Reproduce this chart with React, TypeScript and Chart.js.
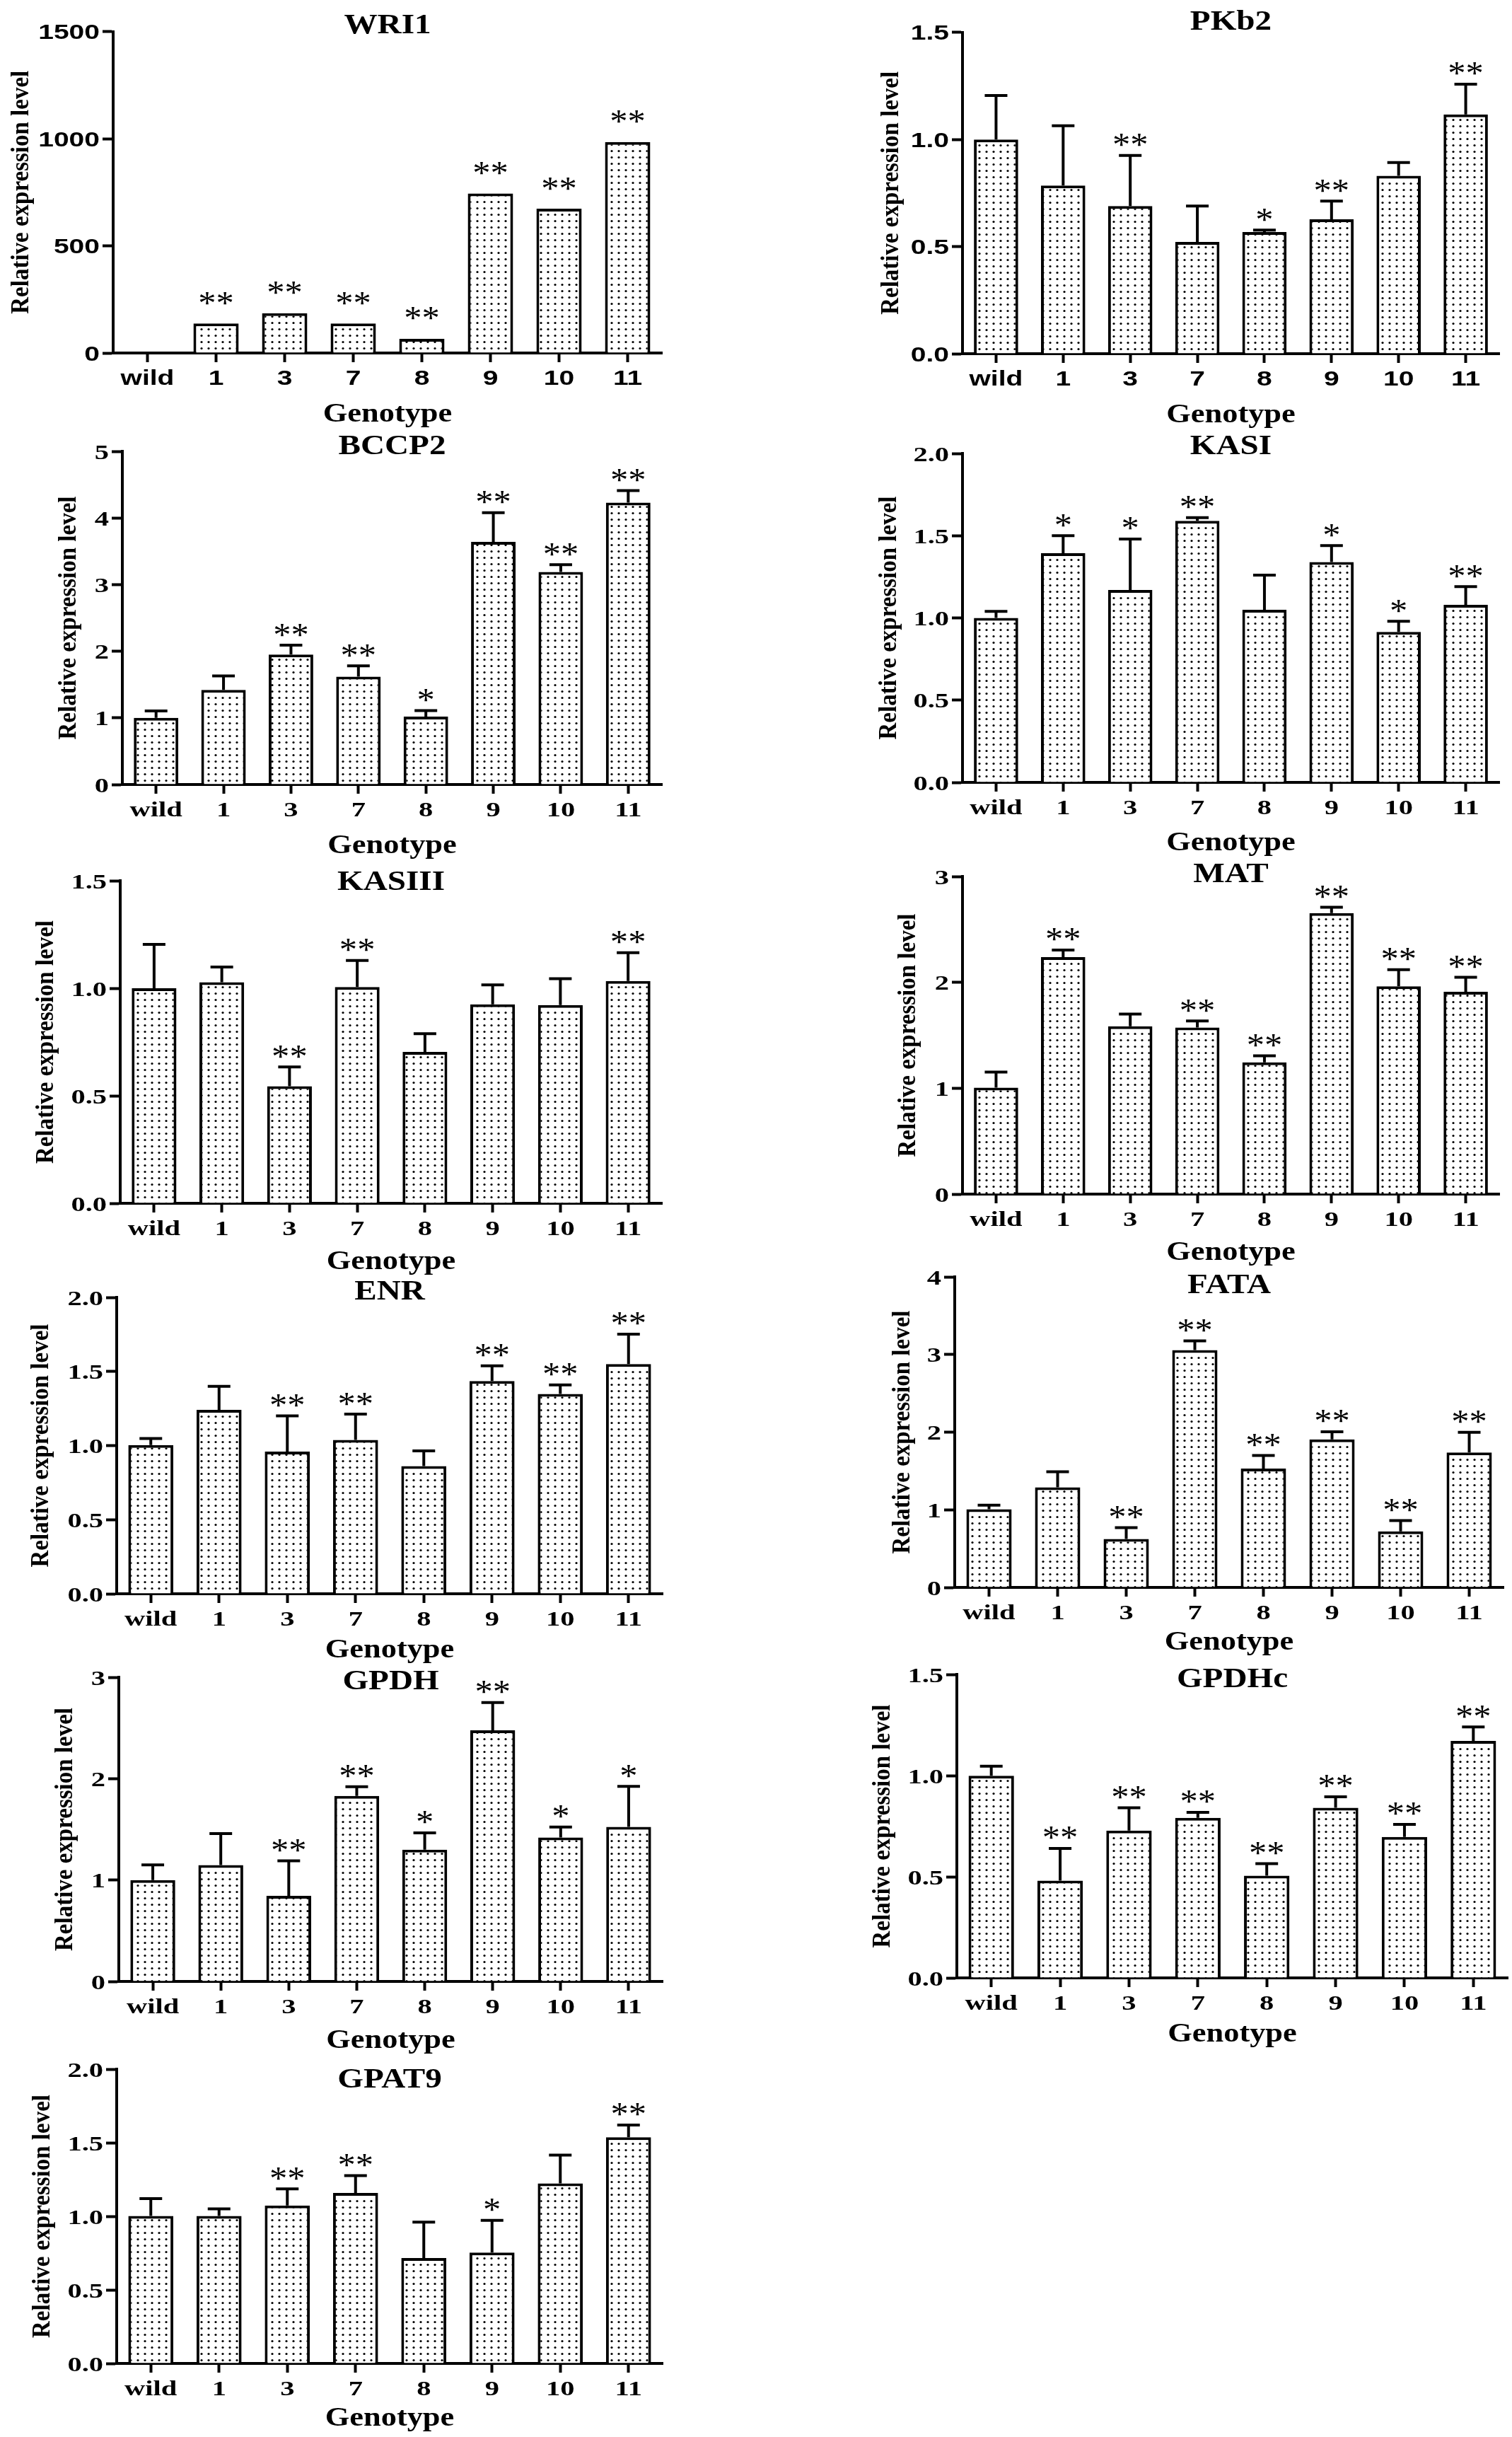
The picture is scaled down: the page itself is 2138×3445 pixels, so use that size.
import React, { useEffect, useRef } from "react";
import { Chart, registerables } from "chart.js";

Chart.register(...registerables);

// ---------------- data ----------------
const genotypes = ["wild", "1", "3", "7", "8", "9", "10", "11"];

const wri1Mean = [1, 138, 186, 138, 66, 744, 673, 984];
const wri1Err = [0, 0, 0, 0, 0, 0, 0, 0];
const wri1Sig = ["", "**", "**", "**", "**", "**", "**", "**"];

const pkb2Mean = [1.0, 0.785, 0.689, 0.522, 0.568, 0.627, 0.83, 1.117];
const pkb2Err = [0.205, 0.279, 0.236, 0.167, 0.009, 0.085, 0.062, 0.141];
const pkb2Sig = ["", "", "**", "", "*", "**", "", "**"];

const bccp2Mean = [1.0, 1.42, 1.95, 1.62, 1.02, 3.64, 3.19, 4.23];
const bccp2Err = [0.105, 0.21, 0.14, 0.16, 0.09, 0.44, 0.11, 0.18];
const bccp2Sig = ["", "", "**", "**", "*", "**", "**", "**"];

const kasiMean = [1.0, 1.394, 1.17, 1.59, 1.05, 1.34, 0.915, 1.08];
const kasiErr = [0.04, 0.106, 0.31, 0.02, 0.21, 0.1, 0.065, 0.11];
const kasiSig = ["", "*", "*", "**", "", "*", "*", "**"];

const kasiiiMean = [1.0, 1.028, 0.544, 1.006, 0.704, 0.925, 0.922, 1.034];
const kasiiiErr = [0.204, 0.071, 0.09, 0.123, 0.085, 0.091, 0.122, 0.131];
const kasiiiSig = ["", "", "**", "**", "", "", "", "**"];

const matMean = [1.006, 2.238, 1.585, 1.574, 1.245, 2.655, 1.963, 1.911];
const matErr = [0.147, 0.067, 0.115, 0.062, 0.062, 0.054, 0.157, 0.137];
const matSig = ["", "**", "", "**", "**", "**", "**", "**"];

const enrMean = [1.003, 1.241, 0.96, 1.038, 0.861, 1.435, 1.349, 1.55];
const enrErr = [0.045, 0.159, 0.24, 0.174, 0.103, 0.103, 0.06, 0.202];
const enrSig = ["", "", "**", "**", "", "**", "**", "**"];

const fataMean = [1.007, 1.29, 0.625, 3.058, 1.53, 1.907, 0.723, 1.737];
const fataErr = [0.053, 0.2, 0.145, 0.118, 0.17, 0.098, 0.137, 0.261];
const fataSig = ["", "", "**", "**", "**", "**", "**", "**"];

const gpdhMean = [0.999, 1.147, 0.844, 1.83, 1.3, 2.477, 1.42, 1.525];
const gpdhErr = [0.151, 0.311, 0.346, 0.09, 0.165, 0.273, 0.103, 0.398];
const gpdhSig = ["", "", "**", "**", "*", "**", "*", "*"];

const gpdhcMean = [0.999, 0.481, 0.728, 0.791, 0.505, 0.841, 0.697, 1.171];
const gpdhcErr = [0.047, 0.159, 0.113, 0.027, 0.06, 0.054, 0.062, 0.069];
const gpdhcSig = ["", "**", "**", "**", "**", "**", "**", "**"];

const gpat9Mean = [1.002, 1.002, 1.073, 1.159, 0.716, 0.754, 1.223, 1.537];
const gpat9Err = [0.118, 0.048, 0.113, 0.118, 0.244, 0.218, 0.193, 0.083];
const gpat9Sig = ["", "", "**", "**", "", "*", "", "**"];

// ---------------- layout / style ----------------
const SERIF = "'Liberation Serif', 'Times New Roman', serif";
const SANS = "'Liberation Sans', Arial, sans-serif";

type Panel = {
  name: string;
  mean: number[];
  err: number[];
  sig: string[];
  yMax: number;
  step: number;
  dec: number;
  sans: boolean;
  left: number;
  top: number;
  right: number;
  bottom: number;
  titleDy: number;
  ylabelX: number;
  genoDy: number;
  starGap: number;
};

const panels: Panel[] = [
  { name: "WRI1", mean: wri1Mean, err: wri1Err, sig: wri1Sig, yMax: 1500, step: 500, dec: 0, sans: true,
    left: 160, top: 44.5, right: 936, bottom: 499, titleDy: 2, ylabelX: 31, genoDy: 97, starGap: 26 },
  { name: "BCCP2", mean: bccp2Mean, err: bccp2Err, sig: bccp2Sig, yMax: 5, step: 1, dec: 0, sans: false,
    left: 173, top: 638, right: 936, bottom: 1109, titleDy: 4, ylabelX: 98, genoDy: 97, starGap: 12 },
  { name: "KASIII", mean: kasiiiMean, err: kasiiiErr, sig: kasiiiSig, yMax: 1.5, step: 0.5, dec: 1, sans: false,
    left: 170, top: 1245, right: 936, bottom: 1701, titleDy: 13, ylabelX: 66, genoDy: 93, starGap: 12 },
  { name: "ENR", mean: enrMean, err: enrErr, sig: enrSig, yMax: 2, step: 0.5, dec: 1, sans: false,
    left: 165, top: 1834, right: 937, bottom: 2253, titleDy: 3, ylabelX: 59, genoDy: 90, starGap: 12 },
  { name: "GPDH", mean: gpdhMean, err: gpdhErr, sig: gpdhSig, yMax: 3, step: 1, dec: 0, sans: false,
    left: 168, top: 2371, right: 937, bottom: 2801, titleDy: 17, ylabelX: 93, genoDy: 94, starGap: 12 },
  { name: "GPAT9", mean: gpat9Mean, err: gpat9Err, sig: gpat9Sig, yMax: 2, step: 0.5, dec: 1, sans: false,
    left: 165, top: 2925, right: 937, bottom: 3341, titleDy: 26, ylabelX: 61, genoDy: 88, starGap: 12 },
  { name: "PKb2", mean: pkb2Mean, err: pkb2Err, sig: pkb2Sig, yMax: 1.5, step: 0.5, dec: 1, sans: true,
    left: 1361, top: 45.7, right: 2120, bottom: 500, titleDy: -4, ylabelX: 1261, genoDy: 97, starGap: 12 },
  { name: "KASI", mean: kasiMean, err: kasiErr, sig: kasiSig, yMax: 2, step: 0.5, dec: 1, sans: false,
    left: 1361, top: 641, right: 2120, bottom: 1106, titleDy: 1, ylabelX: 1258, genoDy: 96, starGap: 12 },
  { name: "MAT", mean: matMean, err: matErr, sig: matSig, yMax: 3, step: 1, dec: 0, sans: false,
    left: 1361, top: 1239, right: 2120, bottom: 1688, titleDy: 8, ylabelX: 1285, genoDy: 93, starGap: 12 },
  { name: "FATA", mean: fataMean, err: fataErr, sig: fataSig, yMax: 4, step: 1, dec: 0, sans: false,
    left: 1350, top: 1805, right: 2126, bottom: 2244, titleDy: 23, ylabelX: 1277, genoDy: 88, starGap: 12 },
  { name: "GPDHc", mean: gpdhcMean, err: gpdhcErr, sig: gpdhcSig, yMax: 1.5, step: 0.5, dec: 1, sans: false,
    left: 1353, top: 2367, right: 2132, bottom: 2796, titleDy: 18, ylabelX: 1249, genoDy: 90, starGap: 12 },
];

function drawText(
  ctx: CanvasRenderingContext2D,
  text: string,
  x: number,
  y: number,
  font: string,
  align: CanvasTextAlign,
  sx: number
) {
  ctx.save();
  ctx.translate(x, y);
  ctx.scale(sx, 1);
  ctx.font = font;
  ctx.textAlign = align;
  ctx.textBaseline = "alphabetic";
  ctx.fillStyle = "#000";
  ctx.fillText(text, 0, 0);
  ctx.restore();
}

function makePattern(): CanvasPattern | string {
  const c = document.createElement("canvas");
  c.width = 10;
  c.height = 9;
  const g = c.getContext("2d");
  if (!g) return "#fff";
  g.fillStyle = "#ffffff";
  g.fillRect(0, 0, 10, 9);
  g.fillStyle = "#000";
  g.beginPath();
  g.arc(5, 4.5, 1.6, 0, Math.PI * 2);
  g.fill();
  return g.createPattern(c, "repeat") || "#fff";
}

function PanelChart({ p }: { p: Panel }) {
  const ref = useRef<HTMLCanvasElement>(null);
  const isLeft = p.left < 1000;
  const colX = isLeft ? 0 : 1180;
  const colW = isLeft ? 1000 : 958;
  const PT = 70;
  const PB = 130;
  const y0 = Math.round(p.top - PT);
  const h = Math.round(p.bottom - y0 + PB);

  useEffect(() => {
    const canvas = ref.current;
    if (!canvas) return;
    const LW = 20;
    const BH = 20;
    const padding = {
      left: p.left - colX - LW,
      right: colX + colW - p.right,
      top: p.top - y0,
      bottom: y0 + h - p.bottom - BH,
    };
    const tickFam = p.sans ? SANS : SERIF;
    const tickFont = `bold 30px ${tickFam}`;
    const tickSx = p.sans ? 1.3 : 1.35;
    const STAR = 46;

    const annot = {
      id: "annot",
      afterDatasetsDraw(chart: any) {
        const ctx: CanvasRenderingContext2D = chart.ctx;
        const meta = chart.getDatasetMeta(0);
        const ys = chart.scales.y;
        ctx.save();
        ctx.strokeStyle = "#000";
        ctx.lineWidth = 4;
        p.mean.forEach((m, i) => {
          const bar = meta.data[i];
          const x = bar.x;
          const yTop = ys.getPixelForValue(m);
          let yErr = yTop;
          const e = p.err[i];
          if (e > 0) {
            yErr = ys.getPixelForValue(m + e);
            ctx.beginPath();
            ctx.moveTo(x, yTop);
            ctx.lineTo(x, yErr);
            ctx.moveTo(x - 16, yErr);
            ctx.lineTo(x + 16, yErr);
            ctx.stroke();
          }
          if (p.sig[i]) {
            drawText(ctx, p.sig[i], x, yErr - p.starGap + 0.27 * STAR, `${STAR}px ${SERIF}`, "center", 1.1);
          }
        });
        ctx.restore();
      },
      afterDraw(chart: any) {
        const ctx: CanvasRenderingContext2D = chart.ctx;
        const ca = chart.chartArea;
        const xs = chart.scales.x;
        const ys = chart.scales.y;
        const cx = (ca.left + ca.right) / 2;
        drawText(ctx, p.name, cx, ca.top + p.titleDy, `bold 41px ${SERIF}`, "center", 1.15);
        ys.ticks.forEach((t: any) => {
          const v = t.value as number;
          const label = p.dec > 0 ? v.toFixed(p.dec) : String(Math.round(v));
          drawText(ctx, label, ca.left - 19, ys.getPixelForValue(v) + 0.35 * 30, tickFont, "right", tickSx);
        });
        genotypes.forEach((g, i) => {
          drawText(ctx, g, xs.getPixelForValue(i), ca.bottom + 45, tickFont, "center", tickSx);
        });
        drawText(ctx, "Genotype", cx, ca.bottom + p.genoDy, `bold 37px ${SERIF}`, "center", 1.2);
        ctx.save();
        ctx.translate(p.ylabelX - colX, (ca.top + ca.bottom) / 2);
        ctx.rotate(-Math.PI / 2);
        ctx.scale(1, 1.1);
        ctx.font = `bold 33px ${SERIF}`;
        ctx.textAlign = "center";
        ctx.textBaseline = "middle";
        ctx.fillStyle = "#000";
        ctx.fillText("Relative expression level", 0, 0);
        ctx.restore();
      },
    };

    const chart = new Chart(canvas, {
      type: "bar",
      data: {
        labels: genotypes,
        datasets: [
          {
            data: p.mean,
            backgroundColor: makePattern() as any,
            borderColor: "#000",
            borderWidth: 4,
            categoryPercentage: 1,
            barPercentage: 0.66,
          },
        ],
      },
      options: {
        responsive: false,
        animation: false,
        devicePixelRatio: 1,
        layout: { padding },
        plugins: {
          legend: { display: false },
          tooltip: { enabled: false },
          title: { display: false },
        },
        scales: {
          x: {
            type: "category",
            offset: true,
            grid: {
              offset: false,
              drawOnChartArea: false,
              drawTicks: true,
              tickLength: 13,
              tickWidth: 4,
              color: "#000",
            },
            border: { display: true, width: 4, color: "#000" },
            ticks: { color: "rgba(0,0,0,0)", autoSkip: false, maxRotation: 0, font: { size: 10 } },
            afterFit: (s: any) => {
              s.height = BH;
            },
          },
          y: {
            type: "linear",
            min: 0,
            max: p.yMax,
            ticks: { stepSize: p.step, color: "rgba(0,0,0,0)", font: { size: 10 } },
            grid: {
              drawOnChartArea: false,
              drawTicks: true,
              tickLength: 15,
              tickWidth: 4,
              color: "#000",
            },
            border: { display: true, width: 4, color: "#000" },
            afterFit: (s: any) => {
              s.width = LW;
            },
          },
        },
      },
      plugins: [annot],
    } as any);
    return () => chart.destroy();
  }, []);

  return (
    <canvas
      ref={ref}
      width={colW}
      height={h}
      style={{ position: "absolute", left: colX, top: y0, width: colW, height: h }}
    />
  );
}

export default function App() {
  return (
    <div
      style={{
        position: "absolute",
        left: 0,
        top: 0,
        width: 2138,
        height: 3445,
        background: "#fff",
        overflow: "hidden",
      }}
    >
      {panels.map((p) => (
        <PanelChart key={p.name} p={p} />
      ))}
    </div>
  );
}
